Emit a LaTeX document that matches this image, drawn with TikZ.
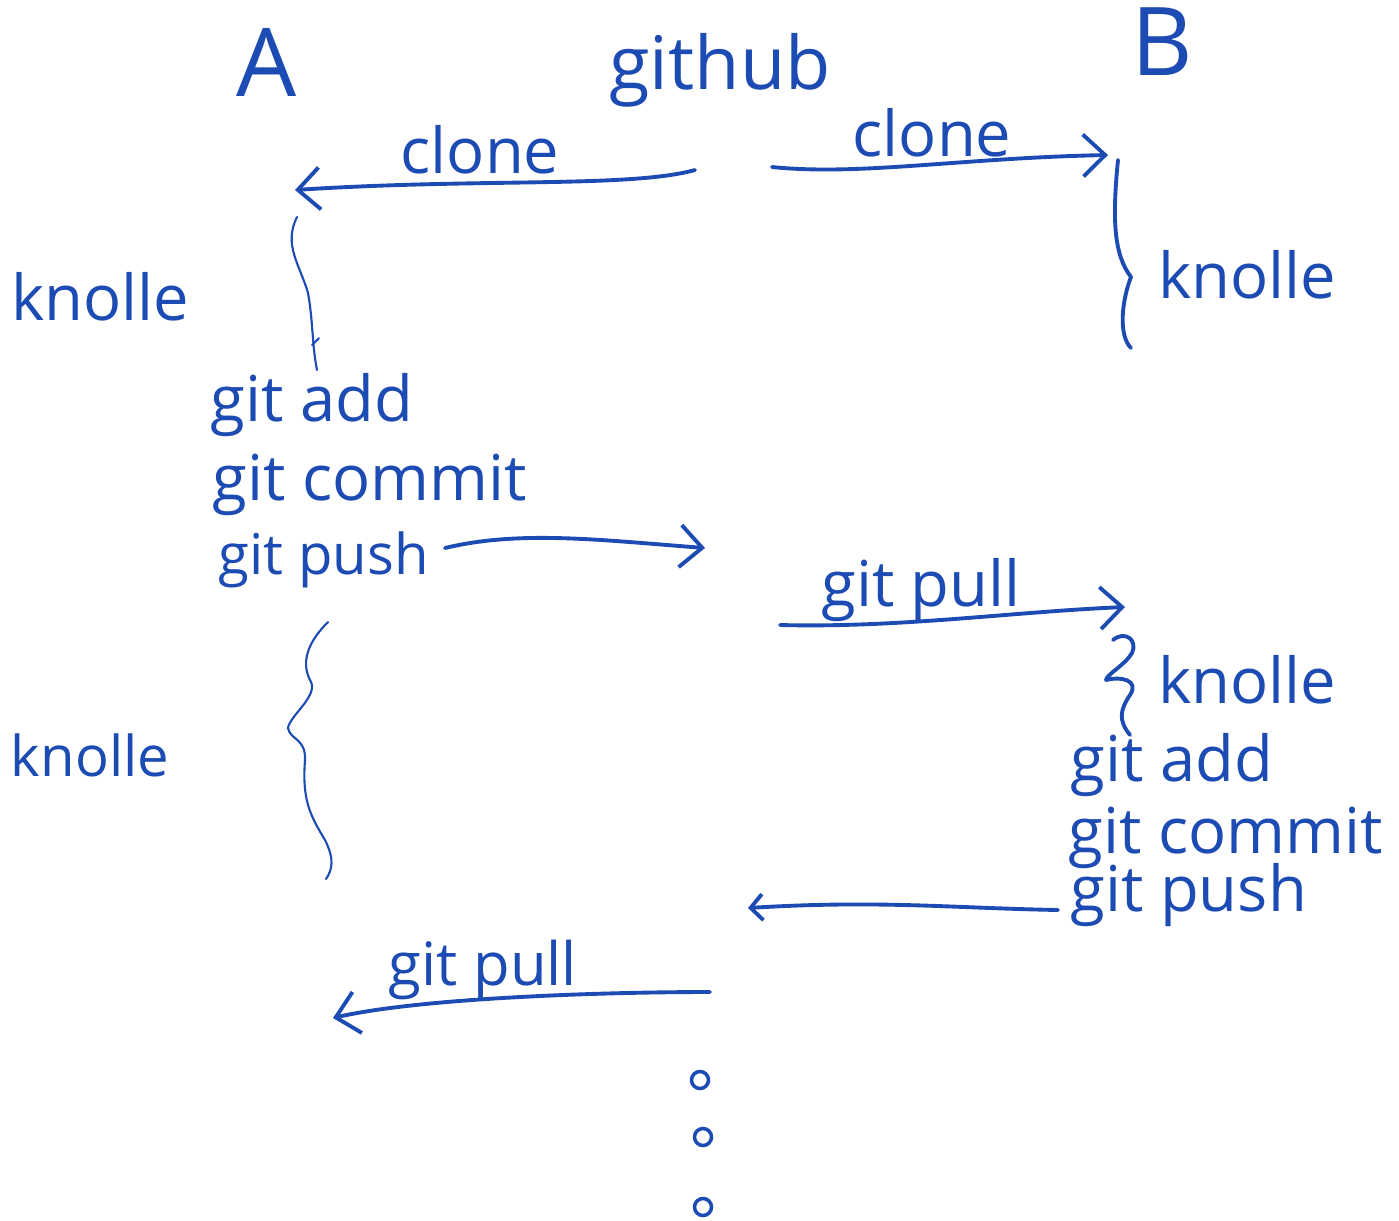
\documentclass[tikz,border=0pt]{standalone}
\usepackage{fontspec}
\setmainfont{Open Sans}
\usetikzlibrary{arrows.meta}
\definecolor{ink}{HTML}{1C4BB3}

\begin{document}
\begin{tikzpicture}[x=0.01cm,y=-0.01cm,
  hand/.style={text=ink, font=\fontsize{18}{20}\selectfont, inner sep=0pt},
  big/.style={text=ink, font=\fontsize{27}{30}\selectfont, inner sep=0pt},
  pen/.style={draw=ink, line width=1.1pt, line cap=round, line join=round},
  thinpen/.style={draw=ink, line width=0.6pt, line cap=round},
  tip/.style={-{Straight Barb[length=2.2mm,width=4.2mm]}},
  smalltip/.style={-{Straight Barb[length=1.2mm,width=2.6mm]}},
  dot/.style={circle, draw=ink, line width=1pt, minimum size=0.17cm, inner sep=0pt}]
\useasboundingbox (0,0) rectangle (1399,1220);

% top row
\node[big] (a) at (267,62) {A};
\node[hand, font=\fontsize{21}{24}\selectfont] (gh) at (720,70) {github};
\node[big] (b) at (1162,42) {B};

% clone
\coordinate (ghl) at (695,170);
\coordinate (ghr) at (772,167);
\coordinate (cla) at (295,190);
\coordinate (clb) at (1108,155);
\node[hand] (clonea) at (480,150) {clone};
\node[hand] (cloneb) at (932,133) {clone};
\draw[pen,tip] (ghl) .. controls (630,188) and (480,178) .. (cla);
\draw[pen,tip] (ghr) .. controls (860,176) and (960,158) .. (clb);

% A works
\node[hand] (knollea) at (100,297) {knolle};
\coordinate (sqa) at (297,217);
\coordinate (sqb) at (317,370);
\draw[thinpen] (sqa) .. controls (283,245) and (300,265) .. (308,293)
  .. controls (313,320) and (312,345) .. (sqb);
\draw[thinpen] (312,345) -- (319,338);
\node[hand, anchor=west] (adda) at (210,405) {git add};
\node[hand, anchor=west] (commita) at (212,485) {git commit};
\node[hand, anchor=west, font=\fontsize{16}{18}\selectfont] (pusha) at (218,560) {git push};
\coordinate (pushst) at (445,548);
\coordinate (pushend) at (705,548);
\draw[pen,tip] (pushst) .. controls (520,530) and (600,540) .. (pushend);

% B side
\coordinate (bt) at (1118,160);
\coordinate (bb) at (1131,348);
\draw[pen] (bt) .. controls (1112,220) and (1114,255) .. (1131,277)
  .. controls (1122,300) and (1118,335) .. (bb);
\node[hand] (knolleb) at (1247,275) {knolle};

\node[hand] (pullb) at (921,590) {git pull};
\coordinate (pbs) at (780,625);
\coordinate (pbe) at (1125,607);
\draw[pen,tip] (pbs) .. controls (900,628) and (1010,612) .. (pbe);

\draw[pen] (1113,640) .. controls (1125,630) and (1138,640) .. (1132,653)
  .. controls (1125,665) and (1106,675) .. (1106,680)
  .. controls (1120,676) and (1140,680) .. (1130,695)
  .. controls (1120,710) and (1118,720) .. (1130,735);
\node[hand] (knolleb2) at (1247,680) {knolle};
\node[hand, anchor=west] (addb) at (1070,765) {git add};
\node[hand, anchor=west] (commitb) at (1068,838) {git commit};
\node[hand, anchor=west] (pushb) at (1070,895) {git push};
\coordinate (pushbst) at (1058,910);
\coordinate (pushbend) at (748,908);
\draw[pen,smalltip] (pushbst) .. controls (950,908) and (880,900) .. (pushbend);

% A again
\coordinate (bra) at (328,622);
\coordinate (brb) at (326,879);
\draw[thinpen] (bra) .. controls (310,640) and (300,660) .. (310,680)
  .. controls (320,695) and (290,715) .. (288,728)
  .. controls (290,740) and (306,738) .. (305,760)
  .. controls (302,800) and (310,815) .. (325,840)
  .. controls (335,860) and (332,870) .. (brb);
\node[hand, font=\fontsize{16}{18}\selectfont] (knollea2) at (90,755) {knolle};

\node[hand, font=\fontsize{17}{19}\selectfont] (pulla) at (483,970) {git pull};
\coordinate (pas) at (710,992);
\coordinate (pae) at (333,1018);
\draw[pen,tip] (pas) .. controls (600,992) and (420,998) .. (pae);

% and so on
\node[dot] (d1) at (700,1080) {};
\node[dot] (d2) at (703,1137) {};
\node[dot] (d3) at (703,1207) {};
\end{tikzpicture}
\end{document}
